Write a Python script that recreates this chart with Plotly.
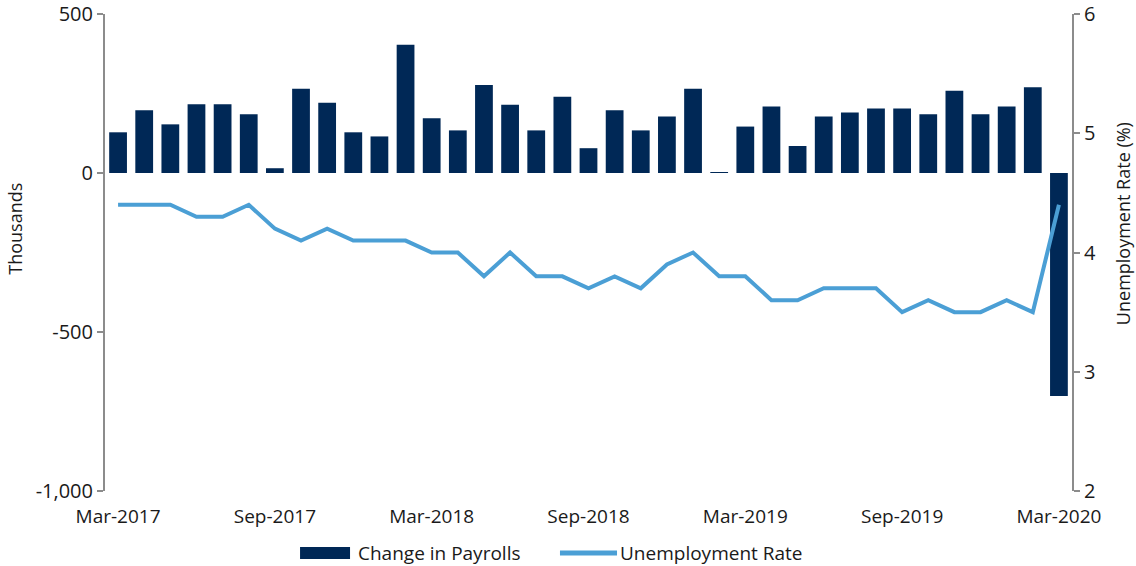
import plotly.graph_objects as go

# monthly data, Mar-2017 .. Mar-2020
months = ["Mar-2017", "Apr-2017", "May-2017", "Jun-2017", "Jul-2017", "Aug-2017",
          "Sep-2017", "Oct-2017", "Nov-2017", "Dec-2017", "Jan-2018", "Feb-2018",
          "Mar-2018", "Apr-2018", "May-2018", "Jun-2018", "Jul-2018", "Aug-2018",
          "Sep-2018", "Oct-2018", "Nov-2018", "Dec-2018", "Jan-2019", "Feb-2019",
          "Mar-2019", "Apr-2019", "May-2019", "Jun-2019", "Jul-2019", "Aug-2019",
          "Sep-2019", "Oct-2019", "Nov-2019", "Dec-2019", "Jan-2020", "Feb-2020",
          "Mar-2020"]

payrolls = [128, 197, 153, 216, 216, 185, 15, 265, 221, 128, 115, 403,
            172, 134, 277, 215, 134, 240, 78, 197, 134, 178, 265, 1,
            146, 209, 85, 178, 190, 203, 203, 185, 259, 185, 209, 270,
            -701]

unemployment = [4.4, 4.4, 4.4, 4.3, 4.3, 4.4, 4.2, 4.1, 4.2, 4.1, 4.1, 4.1,
                4.0, 4.0, 3.8, 4.0, 3.8, 3.8, 3.7, 3.8, 3.7, 3.9, 4.0, 3.8,
                3.8, 3.6, 3.6, 3.7, 3.7, 3.7, 3.5, 3.6, 3.5, 3.5, 3.6, 3.5,
                4.4]

label_months = months[::6]
left_ticks = [-1000, -500, 0, 500]
left_ticktext = ["-1,000", "-500", "0", "500"]
right_ticks = [2, 3, 4, 5, 6]

NAVY = "#002856"
BLUE = "#4b9fd5"
GREY = "#8c8c8c"
TXT = "#1a1a1a"
FONT = "Open Sans"

fig = go.Figure()
fig.add_trace(
    go.Bar(x=months, y=payrolls, name="Change in Payrolls",
           marker_color=NAVY, marker_line_width=0, showlegend=False)
)
fig.add_trace(
    go.Scatter(x=months, y=unemployment, name="Unemployment Rate",
               yaxis="y2", mode="lines", showlegend=False,
               line=dict(color=BLUE, width=4))
)

# legend drawn by hand so the swatches are wide like the original
LEG_Y = -0.130
legend_shapes = [
    dict(type="rect", xref="paper", yref="paper", x0=0.2017, x1=0.2534,
         y0=LEG_Y - 0.0126, y1=LEG_Y + 0.0126, fillcolor=NAVY, line_width=0),
    dict(type="line", xref="paper", yref="paper", x0=0.4705, x1=0.5295,
         y0=LEG_Y, y1=LEG_Y, line=dict(color=BLUE, width=5)),
]
legend_labels = [
    dict(text="Change in Payrolls", xref="paper", yref="paper", x=0.2595,
         y=LEG_Y, xanchor="left", yanchor="middle", showarrow=False,
         font=dict(size=19)),
    dict(text="Unemployment Rate", xref="paper", yref="paper", x=0.5305,
         y=LEG_Y, xanchor="left", yanchor="middle", showarrow=False,
         font=dict(size=19)),
]

fig.update_layout(
    width=1136, height=566,
    margin=dict(l=105, r=64, t=14, b=75, autoexpand=False),
    plot_bgcolor="white", paper_bgcolor="white",
    font=dict(family=FONT, size=20, color=TXT),
    bargap=0.32,
    showlegend=False,
    xaxis=dict(type="category", categoryorder="array", categoryarray=months,
               tickvals=label_months, ticktext=label_months,
               showline=False, ticks="", showgrid=False, zeroline=False,
               range=[-0.5, 36.5], tickfont=dict(size=19),
               ticklabelstandoff=12),
    # axis line with boundary ticks sitting on the zero line
    xaxis2=dict(overlaying="x", anchor="free", position=2/3,
                range=[-0.5, 36.5], showline=True, linecolor=GREY, linewidth=2,
                ticks="outside", ticklen=7, tickcolor=GREY, tickwidth=2,
                tickvals=[5.5, 11.5, 17.5, 23.5, 29.5, 35.5],
                showticklabels=False, showgrid=False, zeroline=False),
    yaxis=dict(range=[-1000, 500], tickvals=left_ticks, ticktext=left_ticktext,
               showline=True, linecolor=GREY, linewidth=2,
               ticks="outside", ticklen=6, tickcolor=GREY, tickwidth=2,
               showgrid=False, zeroline=False),
    yaxis2=dict(range=[2, 6], tickvals=right_ticks, overlaying="y", side="right",
                showline=True, linecolor=GREY, linewidth=2,
                ticks="outside", ticklen=6, tickcolor=GREY, tickwidth=2,
                showgrid=False, zeroline=False),
    shapes=legend_shapes,
    annotations=[
        dict(text="Thousands", xref="paper", yref="paper", x=-0.093, y=0.55,
             textangle=-90, showarrow=False, font=dict(size=18),
             xanchor="center", yanchor="middle"),
        dict(text="Unemployment Rate (%)", xref="paper", yref="paper",
             x=1.053, y=0.56, textangle=-90, showarrow=False,
             font=dict(size=18), xanchor="center", yanchor="middle"),
    ] + legend_labels,
)

# drop the default body margin so the figure fills the window exactly
fig.write_html("out.html", config={"displayModeBar": False},
               post_script="document.body.style.margin='0';"
                           "document.body.style.overflow='hidden';")
